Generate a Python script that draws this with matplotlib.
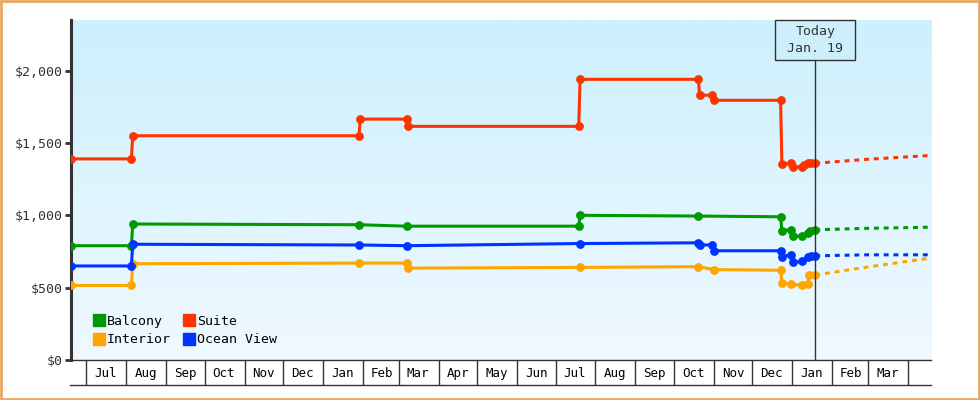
import matplotlib
matplotlib.use("Agg")
import matplotlib.pyplot as plt
import matplotlib.dates as mdates
import matplotlib.ticker as mticker
import numpy as np
import pandas as pd
from matplotlib.colors import LinearSegmentedColormap
from matplotlib.lines import Line2D
from matplotlib.patches import Rectangle
from matplotlib.transforms import blended_transform_factory

# observed prices (date, price) per cabin type
suite_dates = ["2021-06-19", "2021-08-05", "2021-08-06", "2022-01-29", "2022-01-30",
               "2022-03-07", "2022-03-08", "2022-07-19", "2022-07-20", "2022-10-20",
               "2022-10-21", "2022-10-31", "2022-11-01", "2022-12-23", "2022-12-24",
               "2022-12-31", "2023-01-02", "2023-01-09", "2023-01-10", "2023-01-13",
               "2023-01-16", "2023-01-19"]
suite_prices = [1390, 1390, 1550, 1550, 1665, 1665, 1615, 1615, 1940, 1940,
                1830, 1830, 1795, 1795, 1355, 1360, 1335, 1335, 1347, 1360, 1363, 1360]

balcony_dates = ["2021-06-19", "2021-08-05", "2021-08-06", "2022-01-29", "2022-03-07",
                 "2022-07-19", "2022-07-20", "2022-10-20", "2022-12-23", "2022-12-24",
                 "2022-12-31", "2023-01-02", "2023-01-09", "2023-01-13", "2023-01-15",
                 "2023-01-19"]
balcony_prices = [790, 790, 940, 935, 925, 925, 1000, 995, 990, 895,
                  900, 860, 855, 877, 895, 900]

ocean_dates = ["2021-06-19", "2021-08-05", "2021-08-06", "2022-01-29", "2022-03-07",
               "2022-07-20", "2022-10-20", "2022-10-21", "2022-10-31", "2022-11-01",
               "2022-12-23", "2022-12-24", "2022-12-31", "2023-01-02", "2023-01-09",
               "2023-01-13", "2023-01-16", "2023-01-19"]
ocean_prices = [650, 650, 800, 795, 790, 805, 810, 795, 795, 755,
                755, 715, 727, 675, 681, 711, 720, 720]

interior_dates = ["2021-06-19", "2021-08-05", "2021-08-06", "2022-01-29", "2022-03-07",
                  "2022-03-08", "2022-07-20", "2022-10-20", "2022-11-01", "2022-12-23",
                  "2022-12-24", "2022-12-31", "2023-01-09", "2023-01-13", "2023-01-14",
                  "2023-01-19"]
interior_prices = [515, 515, 665, 670, 670, 635, 640, 645, 625, 620,
                   530, 525, 515, 525, 585, 585]

# projections after today
proj_dates = ["2023-01-19", "2023-02-28", "2023-04-19"]
suite_proj = [1360, 1387, 1414]
balcony_proj = [900, 910, 918]
ocean_proj = [720, 727, 727]
interior_proj = [587, 642, 705]

series_names = ["Balcony", "Interior", "Suite", "Ocean View"]
series_colors = ["#009900", "#ffa500", "#ff3300", "#0033ff"]

today = pd.Timestamp("2023-01-19")
x_start = pd.Timestamp("2021-06-19")
x_end = pd.Timestamp("2023-04-19")

mono = "DejaVu Sans Mono"
dark = "#333333"

fig = plt.figure(figsize=(9.8, 4.0), dpi=100)
ax = fig.add_axes([71 / 980, 40 / 400, 860 / 980, 340 / 400])

# background gradient
cmap = LinearSegmentedColormap.from_list("bg", ["#ccf0fd", "#f0f9ff"])
ax.imshow(np.linspace(0, 1, 256).reshape(-1, 1), cmap=cmap, aspect="auto",
          extent=[0, 1, 0, 1], transform=ax.transAxes, zorder=0)

data = [
    (balcony_dates, balcony_prices, balcony_proj, series_colors[0]),
    (interior_dates, interior_prices, interior_proj, series_colors[1]),
    (suite_dates, suite_prices, suite_proj, series_colors[2]),
    (ocean_dates, ocean_prices, ocean_proj, series_colors[3]),
]
for dates, prices, proj, col in data:
    ax.plot(pd.to_datetime(dates), prices, color=col, lw=2.2, marker="o",
            markersize=5.3, zorder=3)
    ax.plot(pd.to_datetime(proj_dates), proj, color=col, lw=2.2,
            linestyle=(0, (1.6, 1.6)), zorder=3)

ax.set_xlim(x_start, x_end)
ax.set_ylim(0, 2350)

# y axis
ax.yaxis.set_major_locator(mticker.MultipleLocator(500))
ax.yaxis.set_major_formatter(mticker.FuncFormatter(lambda v, p: "${:,.0f}".format(v)))
ax.tick_params(axis="y", length=4, width=2, color=dark, labelcolor=dark,
               labelsize=9.5, pad=2)
for lab in ax.get_yticklabels():
    lab.set_family(mono)

# x axis: month cells
ax.xaxis.set_major_locator(mdates.MonthLocator())
ax.xaxis.set_major_formatter(mticker.NullFormatter())
mids = pd.date_range("2021-07-01", "2023-03-01", freq="MS") + pd.Timedelta(days=15)
ax.xaxis.set_minor_locator(mticker.FixedLocator(mdates.date2num(mids)))
ax.xaxis.set_minor_formatter(mticker.FixedFormatter([d.strftime("%b") for d in mids]))
ax.tick_params(axis="x", which="major", length=18, width=1, color=dark, direction="out")
ax.tick_params(axis="x", which="minor", length=0, labelsize=9, pad=5, labelcolor="black")
for lab in ax.get_xticklabels(minor=True):
    lab.set_family(mono)

for s in ["top", "right"]:
    ax.spines[s].set_visible(False)
ax.spines["left"].set_color(dark)
ax.spines["left"].set_linewidth(2.2)
ax.spines["bottom"].set_color(dark)
ax.spines["bottom"].set_linewidth(1)
ax.add_line(Line2D([-0.001, 1.0], [-25 / 340, -25 / 340], transform=ax.transAxes,
                   color=dark, lw=1, clip_on=False))

# today marker
trans = blended_transform_factory(ax.transData, ax.transAxes)
tnum = mdates.date2num(today)
ax.plot([tnum, tnum], [0, 300 / 340], transform=trans, color=dark, lw=1, zorder=5)
ax.add_patch(Rectangle((tnum - 31.5, 300 / 340), 62.5, 40 / 340, transform=trans,
                       facecolor="#cdeffc", edgecolor=dark, lw=1, zorder=5, clip_on=False))
ax.text(tnum, 320 / 340, "Today\nJan. 19", transform=trans, ha="center", va="center",
        family=mono, fontsize=9.5, color=dark, linespacing=1.35, zorder=6)

# legend
handles = [Line2D([], [], marker="s", ls="", color=c, markersize=8) for c in series_colors]
ax.legend(handles, series_names, ncol=2, loc="lower left", bbox_to_anchor=(0.02, 0.025),
          frameon=False, handlelength=0.8, handletextpad=0.2, columnspacing=1.0,
          labelspacing=0.42, borderaxespad=0, prop={"family": mono, "size": 9.5})

# outer border
fig.add_artist(Rectangle((0.001, 0.0025), 0.998, 0.995, transform=fig.transFigure,
                         fill=False, edgecolor="#e8a862", lw=2))

fig.savefig("out.png", dpi=100, facecolor="white")
